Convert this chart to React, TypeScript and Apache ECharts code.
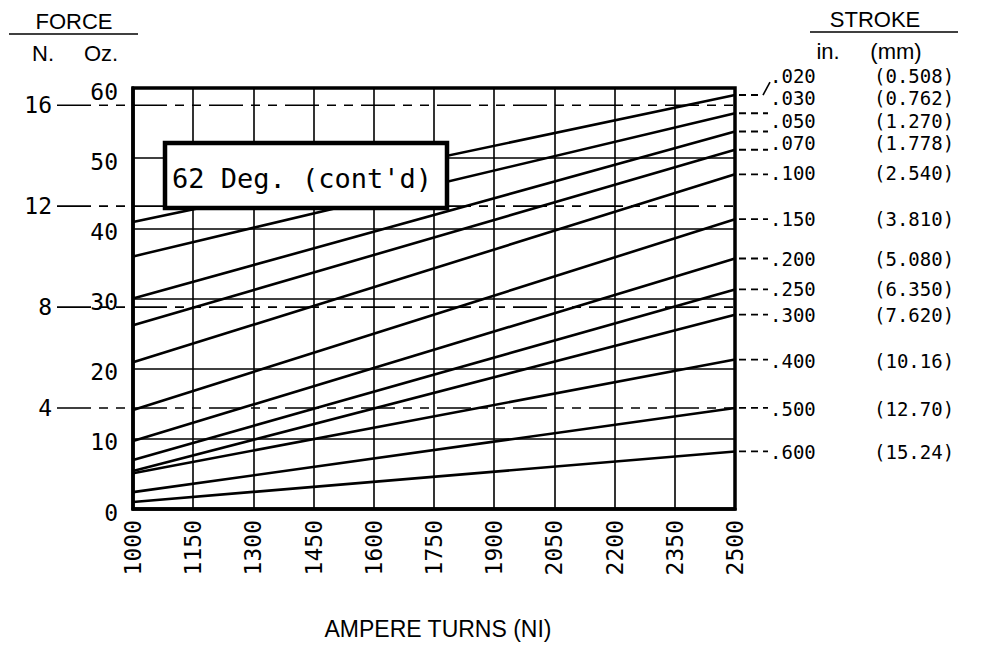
import React, { useEffect, useRef } from "react";
import * as echarts from "echarts";

// ---- data ----
const ampereStart = 1000;
const ampereEnd = 2500;
const ampereStep = 150;
const forceMaxOz = 60;
const forceStepOz = 10;
const strokeIn = [".020", ".030", ".050", ".070", ".100", ".150", ".200", ".250", ".300", ".400", ".500", ".600"];
const strokeMm = ["(0.508)", "(0.762)", "(1.270)", "(1.778)", "(2.540)", "(3.810)", "(5.080)", "(6.350)", "(7.620)", "(10.16)", "(12.70)", "(15.24)"];
const forceOzAt1000 = [40.9, 36.0, 30.0, 26.2, 20.9, 14.1, 9.7, 7.0, 5.4, 5.1, 2.4, 1.0];
const forceOzAt2500 = [59.0, 56.4, 53.8, 51.2, 47.7, 41.3, 35.7, 31.3, 27.7, 21.3, 14.4, 8.2];
const newtonTicks = [4, 8, 12, 16];
const OZ_PER_N = 3.59694;

// ---- layout (label shifts, px) ----
const labelShift = [-19, -14.8, -10.7, -6.5, -1, 0, 0.7, 0, 0, 1, 1, 1];

const MONO = "'DejaVu Sans Mono', monospace";
const SANS = "'Liberation Sans', Arial, sans-serif";

export default function App() {
  const ref = useRef<HTMLDivElement>(null);
  useEffect(() => {
    if (!ref.current) return;
    const chart = echarts.init(ref.current, null, { renderer: "svg" });
    const span = ampereEnd - ampereStart;
    const series = strokeIn.map((name, i) => ({
      type: "line",
      name,
      data: [
        [0, forceOzAt1000[i]],
        [span, forceOzAt2500[i]],
      ],
      symbol: "none",
      lineStyle: { color: "#000", width: 2.6 },
      z: 3,
      silent: true,
    }));
    chart.setOption({
      animation: false,
      backgroundColor: "#fff",
      grid: {
        left: 133,
        right: 984 - 735,
        top: 88,
        bottom: 650 - 509,
        show: true,
        borderColor: "#000",
        borderWidth: 3.5,
        z: 5,
      },
      xAxis: {
        type: "value",
        min: 0,
        max: span,
        interval: ampereStep,
        axisLine: { show: true, lineStyle: { color: "#000", width: 3.5 } },
        axisTick: { show: false },
        splitLine: { show: true, lineStyle: { color: "#000", width: 1.6 } },
        axisLabel: {
          rotate: 90,
          margin: 11,
          color: "#000",
          fontFamily: MONO,
          fontSize: 23,
          formatter: (v: number) => String(v + ampereStart),
        },
      },
      yAxis: {
        type: "value",
        min: 0,
        max: forceMaxOz,
        interval: forceStepOz,
        axisLine: { show: true, lineStyle: { color: "#000", width: 3.5 } },
        axisTick: { show: false },
        splitLine: { show: true, lineStyle: { color: "#000", width: 1.6 } },
        axisLabel: {
          margin: 15,
          color: "#000",
          fontFamily: MONO,
          fontSize: 23,
          verticalAlign: "top",
          padding: [-8, 0, 0, 0],
        },
      },
      series,
    });

    const px = (x: number, y: number) => chart.convertToPixel({ gridIndex: 0 }, [x, y]) as number[];
    const g: any[] = [];
    const rightEdge = px(span, 0)[0];

    // Newton dashed reference lines and labels
    newtonTicks.forEach((n) => {
      const py = px(0, n * OZ_PER_N)[1];
      g.push({
        type: "line",
        z: 2,
        shape: { x1: 57, y1: py, x2: rightEdge, y2: py },
        style: { stroke: "#000", lineWidth: 1.6, lineDash: [34, 8, 9, 8, 9, 8] },
        silent: true,
      });
      g.push({
        type: "text",
        z: 10,
        x: 52,
        y: py,
        style: { text: String(n), fill: "#000", font: `23px ${MONO}`, align: "right", verticalAlign: "middle" },
      });
    });

    // Stroke labels at line ends
    strokeIn.forEach((name, i) => {
      const [ex, ey] = px(span, forceOzAt2500[i]);
      const ty = ey + labelShift[i];
      if (i === 0) {
        g.push({
          type: "line",
          z: 10,
          shape: { x1: ex + 4, y1: ey, x2: ex + 27, y2: ey },
          style: { stroke: "#000", lineWidth: 1.8, lineDash: [7, 5] },
        });
        g.push({
          type: "line",
          z: 10,
          shape: { x1: ex + 28, y1: ey, x2: ex + 35, y2: ty + 6 },
          style: { stroke: "#000", lineWidth: 1.6 },
        });
      } else {
        g.push({
          type: "line",
          z: 10,
          shape: { x1: ex + 4, y1: ey, x2: ex + 33, y2: ey },
          style: { stroke: "#000", lineWidth: 1.8, lineDash: [7, 5] },
        });
      }
      g.push({
        type: "text",
        z: 10,
        x: 770,
        y: ty,
        style: { text: name, fill: "#000", font: `19px ${MONO}`, align: "left", verticalAlign: "middle" },
      });
      g.push({
        type: "text",
        z: 10,
        x: 874,
        y: ty,
        style: { text: strokeMm[i], fill: "#000", font: `19px ${MONO}`, align: "left", verticalAlign: "middle" },
      });
    });

    // Annotation box
    g.push({
      type: "rect",
      z: 20,
      shape: { x: 165, y: 143, width: 282, height: 65 },
      style: { fill: "#fff", stroke: "#000", lineWidth: 4.5 },
    });
    g.push({
      type: "text",
      z: 21,
      x: 172,
      y: 178,
      style: { text: "62 Deg. (cont'd)", fill: "#000", font: `27px ${MONO}`, align: "left", verticalAlign: "middle" },
    });

    // Headers
    const head = (text: string, x: number, y: number, align = "center", size = 22) => ({
      type: "text",
      z: 10,
      x,
      y,
      style: { text, fill: "#000", font: `${size}px ${SANS}`, align, verticalAlign: "middle" },
    });
    g.push(head("FORCE", 74, 21));
    g.push({ type: "line", z: 10, shape: { x1: 9, y1: 34, x2: 138, y2: 34 }, style: { stroke: "#000", lineWidth: 1.5 } });
    g.push(head("N.", 43, 53));
    g.push(head("Oz.", 101, 53));
    g.push(head("STROKE", 875, 19));
    g.push({ type: "line", z: 10, shape: { x1: 810, y1: 32, x2: 958, y2: 32 }, style: { stroke: "#000", lineWidth: 1.5 } });
    g.push(head("in.", 828, 51));
    g.push(head("(mm)", 896, 51));
    g.push(head("AMPERE TURNS (NI)", 438, 629, "center", 23));

    chart.setOption({ graphic: g });

    return () => chart.dispose();
  }, []);
  return (
    <div
      ref={ref}
      style={{ position: "fixed", left: 0, top: 0, width: 984, height: 650, background: "#fff" }}
    />
  );
}
